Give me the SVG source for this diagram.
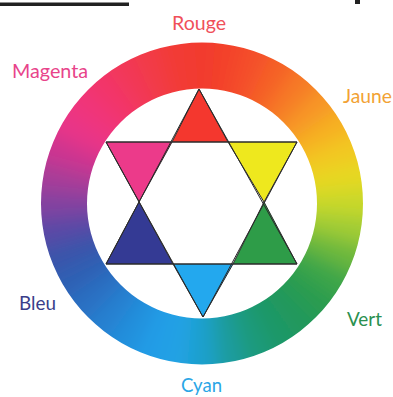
<svg xmlns="http://www.w3.org/2000/svg" width="393" height="397" viewBox="0 0 393 397">
  <style>
    .lbl { font-family: "Lato", "Open Sans", "Noto Sans", sans-serif; font-size: 20px; }
    .tri { stroke: #2a2a2a; stroke-width: 1; stroke-linejoin: miter; }
    .w { stroke-width: 1.5; }
  </style>
  <defs>
    <clipPath id="annulus">
      <path d="M 202 42.5 A 161 161 0 1 1 201.99 42.5 Z M 202 88.5 A 115 115 0 1 0 202.01 88.5 Z" clip-rule="evenodd"/>
    </clipPath>
    <filter id="soft" x="-20%" y="-20%" width="140%" height="140%">
      <feGaussianBlur stdDeviation="9"/>
    </filter>
  </defs>
  <rect width="393" height="397" fill="#ffffff"/>
  <rect x="0" y="2.5" width="129" height="3.5" fill="#222"/>
  <rect x="355" y="0" width="5" height="4" fill="#222"/>

  <g id="ring" clip-path="url(#annulus)">
    <g filter="url(#soft)" class="w">
      <polygon points="202,203.5 185.88,19.20 218.12,19.20" fill="#f23b2d" stroke="#f23b2d"/>
      <polygon points="202,203.5 218.12,19.20 249.88,24.80" fill="#f3432b" stroke="#f3432b"/>
      <polygon points="202,203.5 249.88,24.80 280.18,35.83" fill="#f4502a" stroke="#f4502a"/>
      <polygon points="202,203.5 280.18,35.83 308.11,51.96" fill="#f56228" stroke="#f56228"/>
      <polygon points="202,203.5 308.11,51.96 332.81,72.69" fill="#f67a27" stroke="#f67a27"/>
      <polygon points="202,203.5 332.81,72.69 353.54,97.39" fill="#f79526" stroke="#f79526"/>
      <polygon points="202,203.5 353.54,97.39 369.67,125.32" fill="#f6b024" stroke="#f6b024"/>
      <polygon points="202,203.5 369.67,125.32 380.70,155.62" fill="#f2c822" stroke="#f2c822"/>
      <polygon points="202,203.5 380.70,155.62 386.30,187.38" fill="#e6d824" stroke="#e6d824"/>
      <polygon points="202,203.5 386.30,187.38 386.30,219.62" fill="#c8d82c" stroke="#c8d82c"/>
      <polygon points="202,203.5 386.30,219.62 380.70,251.38" fill="#a0cc34" stroke="#a0cc34"/>
      <polygon points="202,203.5 380.70,251.38 369.67,281.68" fill="#6cb83e" stroke="#6cb83e"/>
      <polygon points="202,203.5 369.67,281.68 353.54,309.61" fill="#3ea648" stroke="#3ea648"/>
      <polygon points="202,203.5 353.54,309.61 332.81,334.31" fill="#2a9c50" stroke="#2a9c50"/>
      <polygon points="202,203.5 332.81,334.31 308.11,355.04" fill="#23985c" stroke="#23985c"/>
      <polygon points="202,203.5 308.11,355.04 280.18,371.17" fill="#1f9868" stroke="#1f9868"/>
      <polygon points="202,203.5 280.18,371.17 249.88,382.20" fill="#1c9a7c" stroke="#1c9a7c"/>
      <polygon points="202,203.5 249.88,382.20 218.12,387.80" fill="#1c9c9e" stroke="#1c9c9e"/>
      <polygon points="202,203.5 218.12,387.80 185.88,387.80" fill="#1ea0cc" stroke="#1ea0cc"/>
      <polygon points="202,203.5 185.88,387.80 154.12,382.20" fill="#20a2e4" stroke="#20a2e4"/>
      <polygon points="202,203.5 154.12,382.20 123.82,371.17" fill="#229ce6" stroke="#229ce6"/>
      <polygon points="202,203.5 123.82,371.17 95.89,355.04" fill="#238fdc" stroke="#238fdc"/>
      <polygon points="202,203.5 95.89,355.04 71.19,334.31" fill="#2580d0" stroke="#2580d0"/>
      <polygon points="202,203.5 71.19,334.31 50.46,309.61" fill="#2a70c2" stroke="#2a70c2"/>
      <polygon points="202,203.5 50.46,309.61 34.33,281.68" fill="#2e60b4" stroke="#2e60b4"/>
      <polygon points="202,203.5 34.33,281.68 23.30,251.38" fill="#3a54aa" stroke="#3a54aa"/>
      <polygon points="202,203.5 23.30,251.38 17.70,219.62" fill="#5a4aa6" stroke="#5a4aa6"/>
      <polygon points="202,203.5 17.70,219.62 17.70,187.38" fill="#8342a0" stroke="#8342a0"/>
      <polygon points="202,203.5 17.70,187.38 23.30,155.62" fill="#a83c98" stroke="#a83c98"/>
      <polygon points="202,203.5 23.30,155.62 34.33,125.32" fill="#cc3690" stroke="#cc3690"/>
      <polygon points="202,203.5 34.33,125.32 50.46,97.39" fill="#e83488" stroke="#e83488"/>
      <polygon points="202,203.5 50.46,97.39 71.19,72.69" fill="#f0347a" stroke="#f0347a"/>
      <polygon points="202,203.5 71.19,72.69 95.89,51.96" fill="#f2366a" stroke="#f2366a"/>
      <polygon points="202,203.5 95.89,51.96 123.82,35.83" fill="#f23858" stroke="#f23858"/>
      <polygon points="202,203.5 123.82,35.83 154.12,24.80" fill="#f23a46" stroke="#f23a46"/>
      <polygon points="202,203.5 154.12,24.80 185.88,19.20" fill="#f23b36" stroke="#f23b36"/>
    </g>
  </g>

  <g id="star">
    <g id="tri-rouge"><polygon class="tri" points="199,89 172,142 228,142" fill="#f4372e"/></g>
    <g id="tri-magenta"><polygon class="tri" points="106,142 172,142 139,202" fill="#ec3a8a"/></g>
    <g id="tri-jaune"><polygon class="tri" points="228,142 297,142 264,202" fill="#eee81e"/></g>
    <g id="tri-bleu"><polygon class="tri" points="139,202 106,264 173,264" fill="#343a94"/></g>
    <g id="tri-vert"><polygon class="tri" points="264,202 233,264 297,264" fill="#2e9c48"/></g>
    <g id="tri-cyan"><polygon class="tri" points="173,264 233,264 203,317" fill="#23a8ee"/></g>
  </g>
  <g id="connectors" fill="none" stroke="#2a2a2a" stroke-width="1">
    <polygon points="199,89 106,264 297,264"/>
    <polygon points="106,142 297,142 203,317"/>
  </g>

  <g id="labels">
    <text class="lbl" x="172" y="30" fill="#f0505a" textLength="54" lengthAdjust="spacingAndGlyphs">Rouge</text>
    <text class="lbl" x="12" y="78" fill="#e8448a" textLength="76" lengthAdjust="spacingAndGlyphs">Magenta</text>
    <text class="lbl" x="343" y="103" fill="#f2a234" textLength="49" lengthAdjust="spacingAndGlyphs">Jaune</text>
    <text class="lbl" x="347" y="326" fill="#2a9050" textLength="35" lengthAdjust="spacingAndGlyphs">Vert</text>
    <text class="lbl" x="19" y="310" fill="#3a3e8a" textLength="37" lengthAdjust="spacingAndGlyphs">Bleu</text>
    <text class="lbl" x="181" y="392" fill="#2aa6e6" textLength="41" lengthAdjust="spacingAndGlyphs">Cyan</text>
  </g>
</svg>
